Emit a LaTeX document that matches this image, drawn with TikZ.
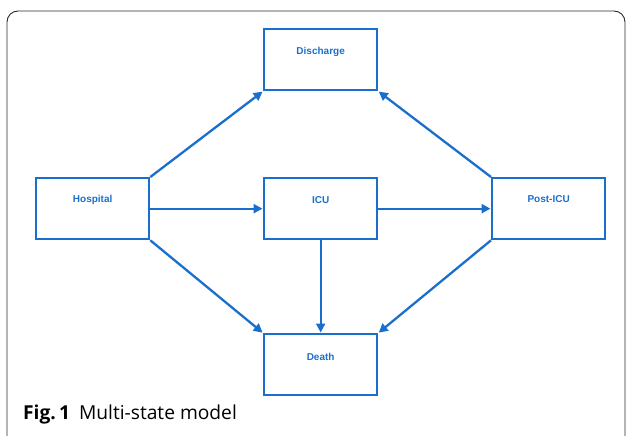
\documentclass[tikz,border=0pt]{standalone}
\usepackage{fontspec}
\setmainfont{Open Sans}
\newfontfamily\boxfont{Liberation Sans}
\usetikzlibrary{arrows.meta}
\definecolor{stateblue}{HTML}{1B6FCC}
\definecolor{framegray}{HTML}{2A2A2A}
\tikzset{
  statebox/.style={draw=stateblue, line width=2.3pt, minimum width=113pt, minimum height=61pt,
    inner sep=0pt, anchor=north west},
  statelabel/.style={text=stateblue, font=\boxfont\bfseries\fontsize{10}{11}\selectfont},
  trans/.style={draw=stateblue, line width=2.3pt, -{Triangle[length=9pt,width=9pt]}, shorten >=0.5pt},
}
\begin{document}
\begin{tikzpicture}[x=1pt,y=-1pt]
\useasboundingbox (0,0) rectangle (627,436);
% outer figure frame
\draw[framegray, line width=0.9pt, rounded corners=11pt] (7,460) -- (7,11) -- (625,11) -- (625,460);

% states
\node[statebox] (dis) at (263,28) {};
\node[statebox] (hos) at (35,177) {};
\node[statebox] (icu) at (263,177) {};
\node[statebox] (post) at (491,177) {};
\node[statebox] (dea) at (263,333) {};

\node[statelabel] (disl) at ([yshift=-24pt]dis.north) {Discharge};
\node[statelabel] (hosl) at ([yshift=-23pt]hos.north) {Hospital};
\node[statelabel] (icul) at ([yshift=-23pt]icu.north) {ICU};
\node[statelabel] (postl) at ([yshift=-22pt]post.north) {Post-ICU};
\node[statelabel] (deal) at ([yshift=-24pt]dea.north) {Death};

% transitions
\draw[trans] (hos.north east) -- (dis.south west);
\draw[trans] (hos.east) -- (icu.west);
\draw[trans] (hos.south east) -- (dea.north west);
\draw[trans] (icu.south) -- (dea.north);
\draw[trans] (icu.east) -- (post.west);
\draw[trans] (post.north west) -- (dis.south east);
\draw[trans] (post.south west) -- (dea.north east);

% caption
\node[anchor=base west, inner sep=0pt, font=\fontsize{19.2}{21}\selectfont] (cap) at (23,419.5)
  {\textbf{Fig.\,1}\hspace{9pt}Multi-state model};
\end{tikzpicture}
\end{document}
